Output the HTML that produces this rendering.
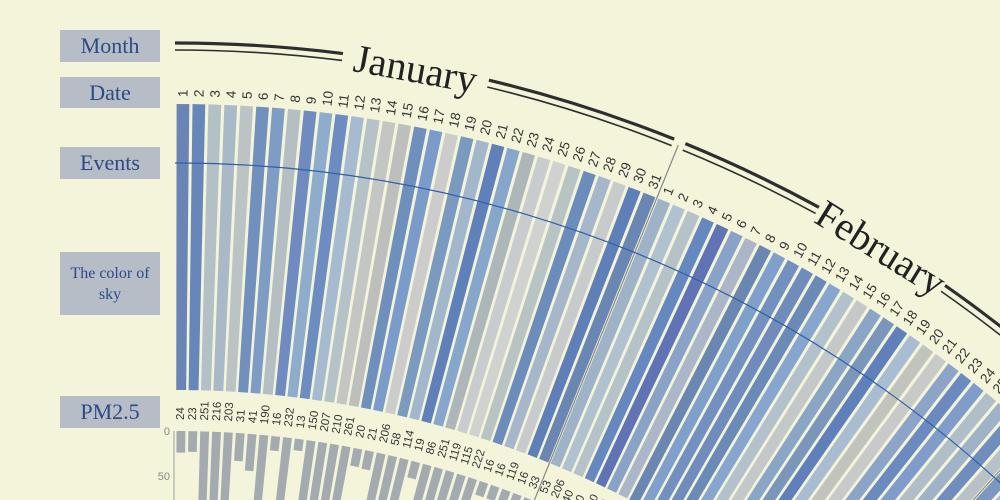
<!DOCTYPE html>
<html><head><meta charset="utf-8"><style>
html,body{margin:0;padding:0;background:#f4f4da;width:1000px;height:500px;overflow:hidden}
.lbl{position:absolute;left:60px;width:100px;background:#b6bdc6;color:#2c4a86;font-family:"Liberation Serif",serif;text-align:center;display:flex;align-items:center;justify-content:center}
svg{position:absolute;left:0;top:0;overflow:hidden}
</style></head><body>
<div class="lbl" style="top:30px;height:32px;font-size:22px">Month</div>
<div class="lbl" style="top:77px;height:31px;font-size:22px">Date</div>
<div class="lbl" style="top:147px;height:32px;font-size:22px">Events</div>
<div class="lbl" style="top:252px;height:63px;font-size:16px;line-height:21px">The color of<br>sky</div>
<div class="lbl" style="top:396px;height:32px;font-size:22px">PM2.5</div>
<svg id="chart" width="1000" height="500" viewBox="0 0 1000 500"></svg>
<script>
const months=["January","February","March"];
const monthDays=[31,28,31];
const skyColors=["#6a84b5","#6787ba","#b3c0c6","#a9b9c7","#bcc3c5","#7290bd","#7f9cc4","#b4bec3","#6f8bc0","#8eaccb","#6d8dc0","#a6bbd0","#b5c2c8","#c4c6c4","#bdbfbd","#6f8fbc","#7b9ccb","#cccccc","#7b9abf","#a2b7cb","#5f80b9","#86a6cc","#adb7ba","#c8ccce","#d0d2cf","#b8c3c3","#6c8dbc","#a7b7cb","#c8cbcb","#5f7fb8","#6a86b2",
"#9fb3c8","#b0c2cf","#b5c2c8","#6688c0","#5f73b5","#88a2c8","#abb7c8","#6a86b2","#7fa0cb","#7291c0","#6f8cbd","#6a8ab8","#86a5cf","#b3c1cc","#c5c8c8","#8aa6c6","#7a96bb","#5f80ba","#a9bdd2","#c0c4bd","#c8cac9","#8ca4c8","#6b8ac0","#7f9ccb","#b0bec8","#9fb3c8","#6f8dbd","#b8c2c6",
"#7c98c0","#a9bacb","#6383bb","#c3c6c4","#8fa9c9","#6f8cbb","#b2bfc9","#5f7fb8","#9db2c9","#c7c9c8","#7a97c2"];
const pmValues=[24,23,251,216,203,31,41,190,16,232,13,150,207,210,261,20,21,206,58,114,19,86,251,119,115,222,16,16,119,16,33,53,206,40,60,150,120,90,30,200,180,45,70,110,160,25,30,90,140,210,60,35,80,120,190,45,100,150,70,40,90,130,60,20,110,170,80,50,30,100];
const pmTicks=[0,50,100];

const CX=175,CY=1387,R_OUT=1283,R_IN=997,R_EV=1224,R_PM=956,R_PML=967,R_DL=1290,R_M=1340;
const DA=0.01242, PMS=0.9;
const svg=document.getElementById('chart');
const NS='http://www.w3.org/2000/svg';
function pt(r,a){return [CX+r*Math.sin(a),CY-r*Math.cos(a)];}
function sector(r0,r1,a0,a1){
  const p1=pt(r1,a0),p2=pt(r1,a1),p3=pt(r0,a1),p4=pt(r0,a0);
  return `M${p1[0]},${p1[1]} A${r1},${r1} 0 0 1 ${p2[0]},${p2[1]} L${p3[0]},${p3[1]} A${r0},${r0} 0 0 0 ${p4[0]},${p4[1]}Z`;
}
function arc(r,a0,a1){const p=pt(r,a0),q=pt(r,a1);return `M${p[0]},${p[1]} A${r},${r} 0 0 1 ${q[0]},${q[1]}`;}
function mk(tag,attrs){const e=document.createElementNS(NS,tag);for(const k in attrs)e.setAttribute(k,attrs[k]);svg.appendChild(e);return e;}

let cum=0, dayIdx=0;
for(let m=0;m<months.length;m++){
  for(let d=0;d<monthDays[m];d++){
    const i=dayIdx;
    if(i<skyColors.length){
      const a0=i*DA,a1=(i+1)*DA;
      const g0=1.6/R_OUT;
      const b=mk('path',{d:sector(R_IN,R_OUT,a0+g0,a1-g0),fill:skyColors[i]});
      
      
      const am=(a0+a1)/2, p=pt(R_DL,am);
      const t=mk('text',{x:p[0],y:p[1],transform:`rotate(${am*180/Math.PI-90} ${p[0]} ${p[1]})`,'font-family':'Liberation Sans, sans-serif','font-size':13.5,fill:'#333','dominant-baseline':'central'});
      t.textContent=String(d+1);
      
      
    }
    if(i<pmValues.length){
      const a0=i*DA,a1=(i+1)*DA,g=1.5/R_PM;
      const b=mk('path',{d:sector(R_PM-pmValues[i]*PMS,R_PM,a0+g,a1-g),fill:'#a3abb1'});
      
      
      const am=(a0+a1)/2,p=pt(R_PML,am);
      const t=mk('text',{x:p[0],y:p[1],transform:`rotate(${am*180/Math.PI-90} ${p[0]} ${p[1]})`,'font-family':'Liberation Sans, sans-serif','font-size':11.5,fill:'#333','dominant-baseline':'central'});
      t.textContent=String(pmValues[i]);
      
      
    }
    dayIdx++;
  }
  const aS=cum*DA, aE=(cum+monthDays[m])*DA;
  if(m>0){const p=pt(700,aS),q=pt(R_M,aS);
    const s=mk('line',{x1:p[0],y1:p[1],x2:q[0],y2:q[1],stroke:'#888',"stroke-width":1.2});
    
    }
  const am=(aS+aE)/2-(m===0?0.012:0.004), half=(m===0?74:74)/R_M, e0=aS+(m===0?0:6/R_M), e1=aE-6/R_M;
  [[R_M+4,3.2],[R_M-3,1.6]].forEach(([r,w])=>{
    [[e0,am-half],[am+half,e1]].forEach(([x0,x1])=>{
      const l=mk('path',{d:arc(r,x0,x1),fill:'none',stroke:'#2e2e2e','stroke-width':w});
      
      
    });
  });
  const p=pt(R_M,am);
  const mt=mk('text',{x:p[0],y:p[1],transform:`rotate(${am*180/Math.PI} ${p[0]} ${p[1]})`,'font-family':'Liberation Serif, serif','font-size':40,fill:'#222','text-anchor':'middle','dominant-baseline':'central'});
  mt.textContent=months[m];
  
  
  cum+=monthDays[m];
}
const ev=mk('path',{d:arc(R_EV,0,1.2),fill:'none',stroke:'#2f5fa8','stroke-width':1.2});


const ax=mk('line',{x1:174,y1:CY-R_PM,x2:174,y2:500,stroke:'#9aa0a4','stroke-width':1});


pmTicks.forEach(v=>{
  const t=mk('text',{x:170,y:CY-R_PM+v*PMS+1,'text-anchor':'end','dominant-baseline':'central','font-family':'Liberation Sans, sans-serif','font-size':11,fill:'#888'});
  t.textContent=String(v);
  
  
});
</script>
</body></html>
